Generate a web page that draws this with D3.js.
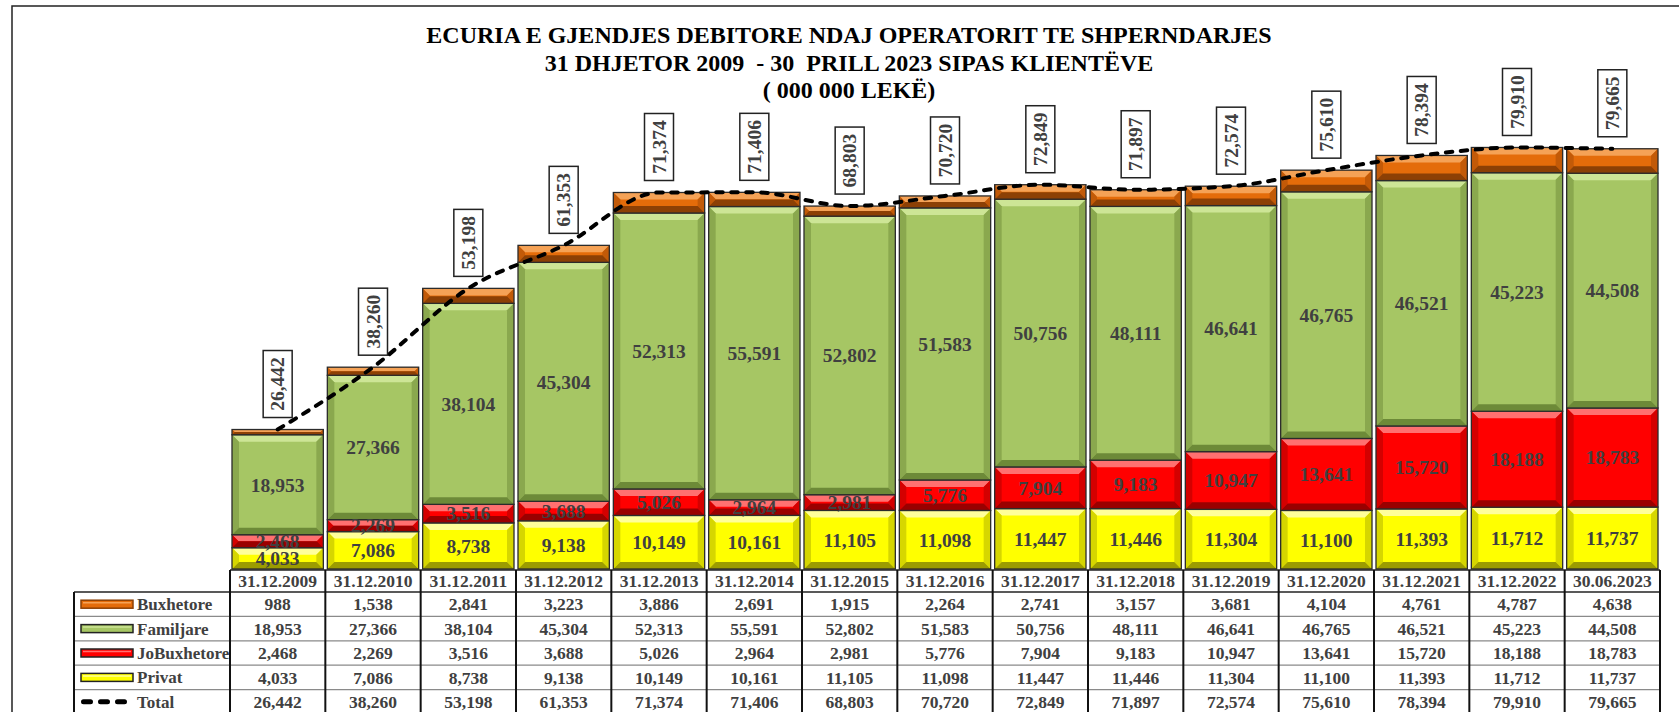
<!DOCTYPE html>
<html>
<head>
<meta charset="utf-8">
<script src="https://cdn.jsdelivr.net/npm/d3@7"></script>
<style>
  body { margin: 0; background: #fff; }
  svg text { font-family: "Liberation Serif", "Times New Roman", serif; font-weight: bold; }
</style>
</head>
<body>
<svg id="chart"></svg>
<script>
// datumet
const dates = ["31.12.2009", "31.12.2010", "31.12.2011", "31.12.2012", "31.12.2013", "31.12.2014", "31.12.2015",
    "31.12.2016", "31.12.2017", "31.12.2018", "31.12.2019", "31.12.2020", "31.12.2021", "31.12.2022", "30.06.2023"];
const buxhetore = [988, 1538, 2841, 3223, 3886, 2691, 1915, 2264, 2741, 3157, 3681, 4104, 4761, 4787, 4638];
const familjare = [18953, 27366, 38104, 45304, 52313, 55591, 52802, 51583, 50756, 48111, 46641, 46765, 46521, 45223, 44508];
const joBuxhetore = [2468, 2269, 3516, 3688, 5026, 2964, 2981, 5776, 7904, 9183, 10947, 13641, 15720, 18188, 18783];
const privat = [4033, 7086, 8738, 9138, 10149, 10161, 11105, 11098, 11447, 11446, 11304, 11100, 11393, 11712, 11737];
const total = [26442, 38260, 53198, 61353, 71374, 71406, 68803, 70720, 72849, 71897, 72574, 75610, 78394, 79910, 79665];

const titleLines = ["ECURIA E GJENDJES DEBITORE NDAJ OPERATORIT TE SHPERNDARJES",
    "31 DHJETOR 2009  - 30  PRILL 2023 SIPAS KLIENTËVE",
    "( 000 000 LEKË)"];

const width = 1679;
const height = 712;

const svg = d3.select("#chart")
    .attr("width", width)
    .attr("height", height);

// ngjyrat e serive me efekt reliev
const series = [
    { key: "privat", name: "Privat", values: privat, face: "#ffff00", top: "#ffff9a", side: "#d6d600", bottom: "#9c9c00", label: true },
    { key: "joBuxhetore", name: "JoBuxhetore", values: joBuxhetore, face: "#ff0000", top: "#ff7070", side: "#d40000", bottom: "#9a0000", label: true },
    { key: "familjare", name: "Familjare", values: familjare, face: "#a6c664", top: "#cde596", side: "#8aa84e", bottom: "#6d8a38", label: true },
    { key: "buxhetore", name: "Buxhetore", values: buxhetore, face: "#e46c0a", top: "#f5a256", side: "#c25a08", bottom: "#8c4005", label: false }
];

const rows = dates.map((d, i) => {
    const r = { date: d };
    series.forEach(s => r[s.key] = s.values[i]);
    return r;
});

const stacked = d3.stack().keys(series.map(s => s.key))(rows);

const x = d3.scaleBand()
    .domain(dates)
    .range([230, 1660])
    .padding(0);

const y = d3.scaleLinear()
    .domain([0, 80000])
    .range([569, 147]);

const fmt = d3.format(",");

// korniza
svg.append("rect")
    .attr("x", 12).attr("y", 6)
    .attr("width", 1720).attr("height", 800)
    .attr("fill", "#fff")
    .attr("stroke", "#222")
    .attr("stroke-width", 1.5);

// titulli
svg.append("g").selectAll("text")
    .data(titleLines)
    .enter().append("text")
    .attr("x", 849)
    .attr("y", (d, i) => [43, 71, 98][i])
    .attr("text-anchor", "middle")
    .style("font-size", "24px")
    .style("white-space", "pre")
    .attr("fill", "#000")
    .text(d => d);

// shtyllat
const inset = 2;
const bw = x.bandwidth() - inset * 2;

function bevelBar(g, x0, y0, w, h, s) {
    const x1 = x0 + w, y1 = y0 + h;
    const b = Math.min(7, h / 2, w / 2);
    g.append("rect").attr("x", x0).attr("y", y0).attr("width", w).attr("height", h).attr("fill", s.face);
    const poly = (pts, fill) => g.append("polygon")
        .attr("points", pts.map(p => p.join(",")).join(" "))
        .attr("fill", fill);
    poly([[x0, y0], [x1, y0], [x1 - b, y0 + b], [x0 + b, y0 + b]], s.top);
    poly([[x0, y0], [x0 + b, y0 + b], [x0 + b, y1 - b], [x0, y1]], s.side);
    poly([[x1, y0], [x1, y1], [x1 - b, y1 - b], [x1 - b, y0 + b]], s.side);
    poly([[x0, y1], [x1, y1], [x1 - b, y1 - b], [x0 + b, y1 - b]], s.bottom);
    g.append("rect").attr("x", x0).attr("y", y0).attr("width", w).attr("height", h)
        .attr("fill", "none").attr("stroke", "#2b2b2b").attr("stroke-width", 1.3);
}

const barsG = svg.append("g");
stacked.forEach((layer, li) => {
    const s = series[li];
    layer.forEach((seg, i) => {
        const top = y(seg[1]);
        const bot = y(seg[0]);
        bevelBar(barsG, x(dates[i]) + inset, top, bw, bot - top, s);
    });
});

// etiketat brenda shtyllave
const labelsG = svg.append("g");
stacked.forEach((layer, li) => {
    const s = series[li];
    if (!s.label) return;
    labelsG.selectAll(null)
        .data(layer)
        .enter().append("text")
        .attr("x", (d, i) => x(dates[i]) + x.bandwidth() / 2)
        .attr("y", d => (y(d[0]) + y(d[1])) / 2)
        .attr("dy", "0.35em")
        .attr("text-anchor", "middle")
        .style("font-size", "19.5px")
        .attr("fill", "#404040")
        .text(d => fmt(d[1] - d[0]));
});

// vija e totalit
const line = d3.line()
    .x((d, i) => x(dates[i]) + x.bandwidth() / 2)
    .y(d => y(d))
    .curve(d3.curveMonotoneX);

svg.append("path")
    .datum(total)
    .attr("d", line)
    .attr("fill", "none")
    .attr("stroke", "#000")
    .attr("stroke-width", 4)
    .attr("stroke-dasharray", "6.5,8.5")
    .attr("stroke-linecap", "round");

// kutite e totalit
const boxW = 29, boxH = 67;
const boxes = svg.append("g").selectAll("g")
    .data(total)
    .enter().append("g")
    .attr("transform", (d, i) => `translate(${x(dates[i]) + x.bandwidth() / 2},${y(d) - 12 - boxH / 2})`);

boxes.append("rect")
    .attr("x", -boxW / 2).attr("y", -boxH / 2)
    .attr("width", boxW).attr("height", boxH)
    .attr("fill", "#fff")
    .attr("stroke", "#222")
    .attr("stroke-width", 1.5);

boxes.append("text")
    .attr("transform", "rotate(-90)")
    .attr("dy", "0.35em")
    .attr("text-anchor", "middle")
    .style("font-size", "19.5px")
    .attr("fill", "#404040")
    .text(d => fmt(d));

// tabela e te dhenave
const tableLeft = 74;
const headTop = 570, headBottom = 592;
const rowH = 24.4;
const tableFont = "17.5px";
const tableRows = [
    { name: "Buxhetore", values: buxhetore, type: "bar", s: series[3] },
    { name: "Familjare", values: familjare, type: "bar", s: series[2] },
    { name: "JoBuxhetore", values: joBuxhetore, type: "bar", s: series[1] },
    { name: "Privat", values: privat, type: "bar", s: series[0] },
    { name: "Total", values: total, type: "line" }
];

const table = svg.append("g");

// rreshti i kokes
table.selectAll(".head")
    .data(dates)
    .enter().append("text")
    .attr("class", "head")
    .attr("x", d => x(d) + x.bandwidth() / 2)
    .attr("y", (headTop + headBottom) / 2)
    .attr("dy", "0.35em")
    .attr("text-anchor", "middle")
    .style("font-size", tableFont)
    .attr("fill", "#404040")
    .text(d => d);

tableRows.forEach((r, ri) => {
    const cy = headBottom + rowH * ri + rowH / 2;
    table.selectAll(null)
        .data(r.values)
        .enter().append("text")
        .attr("x", (d, i) => x(dates[i]) + x.bandwidth() / 2)
        .attr("y", cy)
        .attr("dy", "0.35em")
        .attr("text-anchor", "middle")
        .style("font-size", tableFont)
        .attr("fill", "#404040")
        .text(d => fmt(d));

    if (r.type === "bar") {
        table.append("rect")
            .attr("x", 81).attr("y", cy - 4)
            .attr("width", 52).attr("height", 8)
            .attr("fill", r.s.face)
            .attr("stroke", r.name === "Buxhetore" ? r.s.bottom : "#222")
            .attr("stroke-width", 1.5);
        table.append("line")
            .attr("x1", 83).attr("x2", 131)
            .attr("y1", cy - 1.5).attr("y2", cy - 1.5)
            .attr("stroke", r.s.top).attr("stroke-width", 1.5);
    } else {
        table.append("line")
            .attr("x1", 83.5).attr("x2", 125.5)
            .attr("y1", cy).attr("y2", cy)
            .attr("stroke", "#000").attr("stroke-width", 5)
            .attr("stroke-dasharray", "7,10")
            .attr("stroke-linecap", "round");
    }

    table.append("text")
        .attr("x", 137)
        .attr("y", cy)
        .attr("dy", "0.35em")
        .style("font-size", "17px")
        .attr("fill", "#404040")
        .text(r.name);
});

// vijat e tabeles
const hLines = d3.range(tableRows.length + 1).map(i => headBottom + rowH * i);
table.selectAll(".hline")
    .data(hLines)
    .enter().append("line")
    .attr("x1", tableLeft).attr("x2", 1660)
    .attr("y1", d => d).attr("y2", d => d)
    .attr("stroke", (d, i) => i === 0 ? "#222" : "#8a8a8a")
    .attr("stroke-width", (d, i) => i === 0 ? 1.5 : 1.2);

table.append("line")
    .attr("x1", 230).attr("x2", 1660)
    .attr("y1", headTop).attr("y2", headTop)
    .attr("stroke", "#222").attr("stroke-width", 1.5);

const vLines = dates.map(d => x(d)).concat([1660]);
table.selectAll(".vline")
    .data(vLines)
    .enter().append("line")
    .attr("x1", d => d).attr("x2", d => d)
    .attr("y1", headTop).attr("y2", height)
    .attr("stroke", "#111").attr("stroke-width", 2);

table.append("line")
    .attr("x1", tableLeft).attr("x2", tableLeft)
    .attr("y1", headBottom).attr("y2", height)
    .attr("stroke", "#111").attr("stroke-width", 2);
</script>
</body>
</html>
